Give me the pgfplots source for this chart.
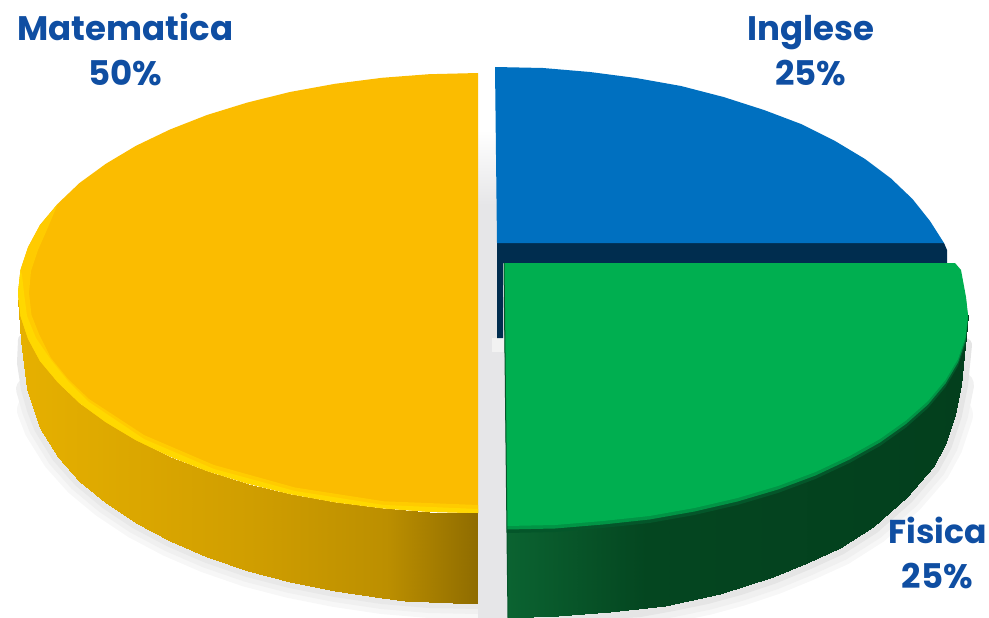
\documentclass[border=0pt]{standalone}
\usepackage{pgfplots}
\usepackage{pgfplotstable}
\usepackage{fontspec}
\pgfplotsset{compat=1.18}
\setmainfont{Poppins}

\definecolor{labelblue}{HTML}{0F4EA2}
\definecolor{yface}{HTML}{FBBC00}
\definecolor{ybevel}{HTML}{FFD800}
\definecolor{ysoft}{HTML}{FFCB00}
\definecolor{gface}{HTML}{00AF50}
\definecolor{gdark}{HTML}{04562A}
\definecolor{bface}{HTML}{0070C0}
\definecolor{bside}{HTML}{002D4F}

\pgfplotsset{
	colormap={yelside}{rgb255(0cm)=(230,176,0) rgb255(5cm)=(208,158,0) rgb255(8cm)=(188,143,0) rgb255(10cm)=(143,108,0)},
	colormap={grnside}{rgb255(0cm)=(11,99,49) rgb255(3cm)=(4,70,32) rgb255(10cm)=(3,63,29)},
	colormap={shade}{rgb255(0cm)=(255,255,255) rgb255(10cm)=(230,230,232)},
	bandplot/.style={surf, shader=interp},
	shadowline/.style={no marks, line cap=round},
}

% outer edge of the shadows
\pgfplotstableread{
x y
24 340
23 363
27 389
33 410
40 428
58 457
79.5 481
106 503
136 523
170 541
207 557
247.5 571
290 582
335 591
382 598
429 602
478 603
}\yshadow
\pgfplotstableread{
x y
965 345
961 385
955 415
945 445
933 467
907 497
873 527
840 548
807 563
773 577
740 588
707 597
673 604
640 610
610 612
558 616
508 618
}\gshadow
% top face of the green slice
\pgfplotstableread{
x y
504 263
955 263
961 270
966 297
968 315
965.5 337
958 359
945.5 380
928 401
906 420.5
880 439
849.6 456
815.5 472
778 486
737.5 498
694.5 508
649.5 516
603 521
555 525
507 526
}\gtop

\begin{document}
\begin{tikzpicture}
	\begin{axis}[
		scale only axis,
		width=989pt,
		height=618pt,
		xmin=0, xmax=989,
		ymin=0, ymax=618,
		y dir=reverse,
		hide axis,
		point meta min=0,
		point meta max=1,
		]
		% shadows
		\addplot[shadowline, color=black!3, line width=32pt, restrict y to domain=395:618] table {\yshadow};
		\addplot[shadowline, color=black!6, line width=22pt, restrict y to domain=370:618] table {\yshadow};
		\addplot[shadowline, color=black!9, line width=12pt] table {\yshadow};
		\addplot[shadowline, color=black!3, line width=36pt, restrict y to domain=410:618] table {\gshadow};
		\addplot[shadowline, color=black!6, line width=26pt, restrict y to domain=380:618] table {\gshadow};
		\addplot[shadowline, color=black!10, line width=14pt] table {\gshadow};
		\addplot[bandplot, mesh/cols=2, colormap name=shade, point meta=\thisrow{c}] table {
			x y c
			478 130 0
			496 130 0
			478 205 1
			497 205 1
			478 338 1
			505 338 1
			478 618 1
			508 618 1
		};
		\addplot[draw=none, fill=black!5] coordinates {(492,338) (505,338) (505,352) (492,352)} --cycle;
		% Matematica
		\addplot[bandplot, mesh/cols=18, colormap name=yelside, point meta={(x-20)/458}] table {
			x y
			18.5 300
			20.5 316
			28 339
			40 361
			58 382.5
			79.5 403
			106 422
			136 440
			170 456.5
			207 471
			247.5 483.5
			290 494
			335 502
			382 508
			405 510
			429 512
			453 513
			478 513
			18.5 300
			21 340
			27 389
			40 428
			58 457
			79.5 481
			106 503
			136 523
			170 541
			207 557
			247.5 571
			290 582
			335 591
			382 598
			405 600.5
			429 602
			453 603
			478 603
		};
		\addplot[draw=none, fill=yface] coordinates {
			(478,73) (429,74.2) (382,77.8) (335,83.8) (290,92) (247.5,102.5) (207,115)
			(170,129.5) (136,145.8) (106,163.7) (79.5,183) (58,203.5) (40,225) (28,247.3)
			(20.5,270) (18,293) (20.5,316) (28,338.7) (40,361) (58,382.5) (79.5,403)
			(106,422.3) (136,440.2) (170,456.5) (207,471) (247.5,483.5) (290,494)
			(335,502.2) (382,508.2) (429,511.8) (478,513)
		} --cycle;
		\addplot[draw=none, fill=ysoft] coordinates {
			(58,203.5) (40,225) (28,247.3) (20.5,270) (18,293) (20.5,316) (28,338.7) (40,361)
			(58,382.5) (79.5,403) (106,422.3) (136,440.2) (170,456.5) (207,471)
			(247.5,483.5) (290,494) (335,502.2) (382,508.2) (429,511.8) (478,513)
			(478,505) (384,501.3) (295,487.5) (214,465) (144,435) (89,399) (68,379)
			(51,358) (39,334) (31.5,315) (29,293) (31,271) (38,250) (46,232)
		} --cycle;
		\addplot[draw=none, fill=ybevel] coordinates {
			(20.5,270) (18,293) (20.5,316) (28,338.7) (40,361)
			(58,382.5) (79.5,403) (106,422.3) (136,440.2) (170,456.5) (207,471)
			(247.5,483.5) (290,494) (335,502.2) (382,508.2) (429,511.8) (478,513)
			(478,509) (384,505) (295,491) (214,469) (144,439) (89,402) (68,381)
			(51,360) (36,338) (27,316) (24,293) (22,275)
		} --cycle;
		% Inglese
		\addplot[draw=none, fill=bside] coordinates {
			(497,243) (944,243) (947,250) (947,263) (503,263) (503,338) (497,338)
		} --cycle;
		\addplot[draw=none, fill=bface] coordinates {
			(495,67) (543,68) (590,72) (636,78) (681,86) (723.5,97) (764,110) (801,124)
			(835,141) (865,159) (891,178.5) (912.5,199) (930,221) (944,243) (497,243)
		} --cycle;
		% Fisica
		\addplot[bandplot, mesh/cols=17, colormap name=grnside, point meta={(x-508)/460}] table {
			x y
			968 315
			965.5 337
			958 359
			945.5 380
			928 401
			906 420.5
			880 439
			849.6 456
			815.5 472
			778 486
			737.5 498
			694.5 508
			649.5 516
			603 521
			555 525
			530 526
			507 526
			968 315
			965 345
			961 385
			955 415
			945 445
			933 467
			907 497
			873 527
			840 548
			807 563
			773 577
			720 594
			665 606
			610 612
			558 616
			533 617
			508 618
		};
		\addplot[draw=none, fill=gdark] table[y expr=\thisrow{y}+7] {\gtop} --cycle;
		\addplot[draw=none, fill=gface!70!gdark] table[y expr=\thisrow{y}+3.5] {\gtop} --cycle;
		\addplot[draw=none, fill=gface] table {\gtop} --cycle;
		\addplot[no marks, color=gdark, line width=1pt] coordinates {(504,263) (507,533) (508,618)};

		\path[use as bounding box] (axis cs:0,0) rectangle (axis cs:989,618);
		\node[anchor=base, text=labelblue, font=\fontsize{34}{34}\selectfont\bfseries] at (axis cs:125.5,41) {Matematica};
		\node[anchor=base, text=labelblue, font=\fontsize{34}{34}\selectfont\bfseries] at (axis cs:125.5,86) {50\%};
		\node[anchor=base, text=labelblue, font=\fontsize{34}{34}\selectfont\bfseries] at (axis cs:811,41) {Inglese};
		\node[anchor=base, text=labelblue, font=\fontsize{34}{34}\selectfont\bfseries] at (axis cs:811,86) {25\%};
		\node[anchor=base, text=labelblue, font=\fontsize{33}{33}\selectfont\bfseries] at (axis cs:937.5,543) {Fisica};
		\node[anchor=base, text=labelblue, font=\fontsize{34}{34}\selectfont\bfseries] at (axis cs:937.5,588) {25\%};
	\end{axis}
\end{tikzpicture}
\end{document}
